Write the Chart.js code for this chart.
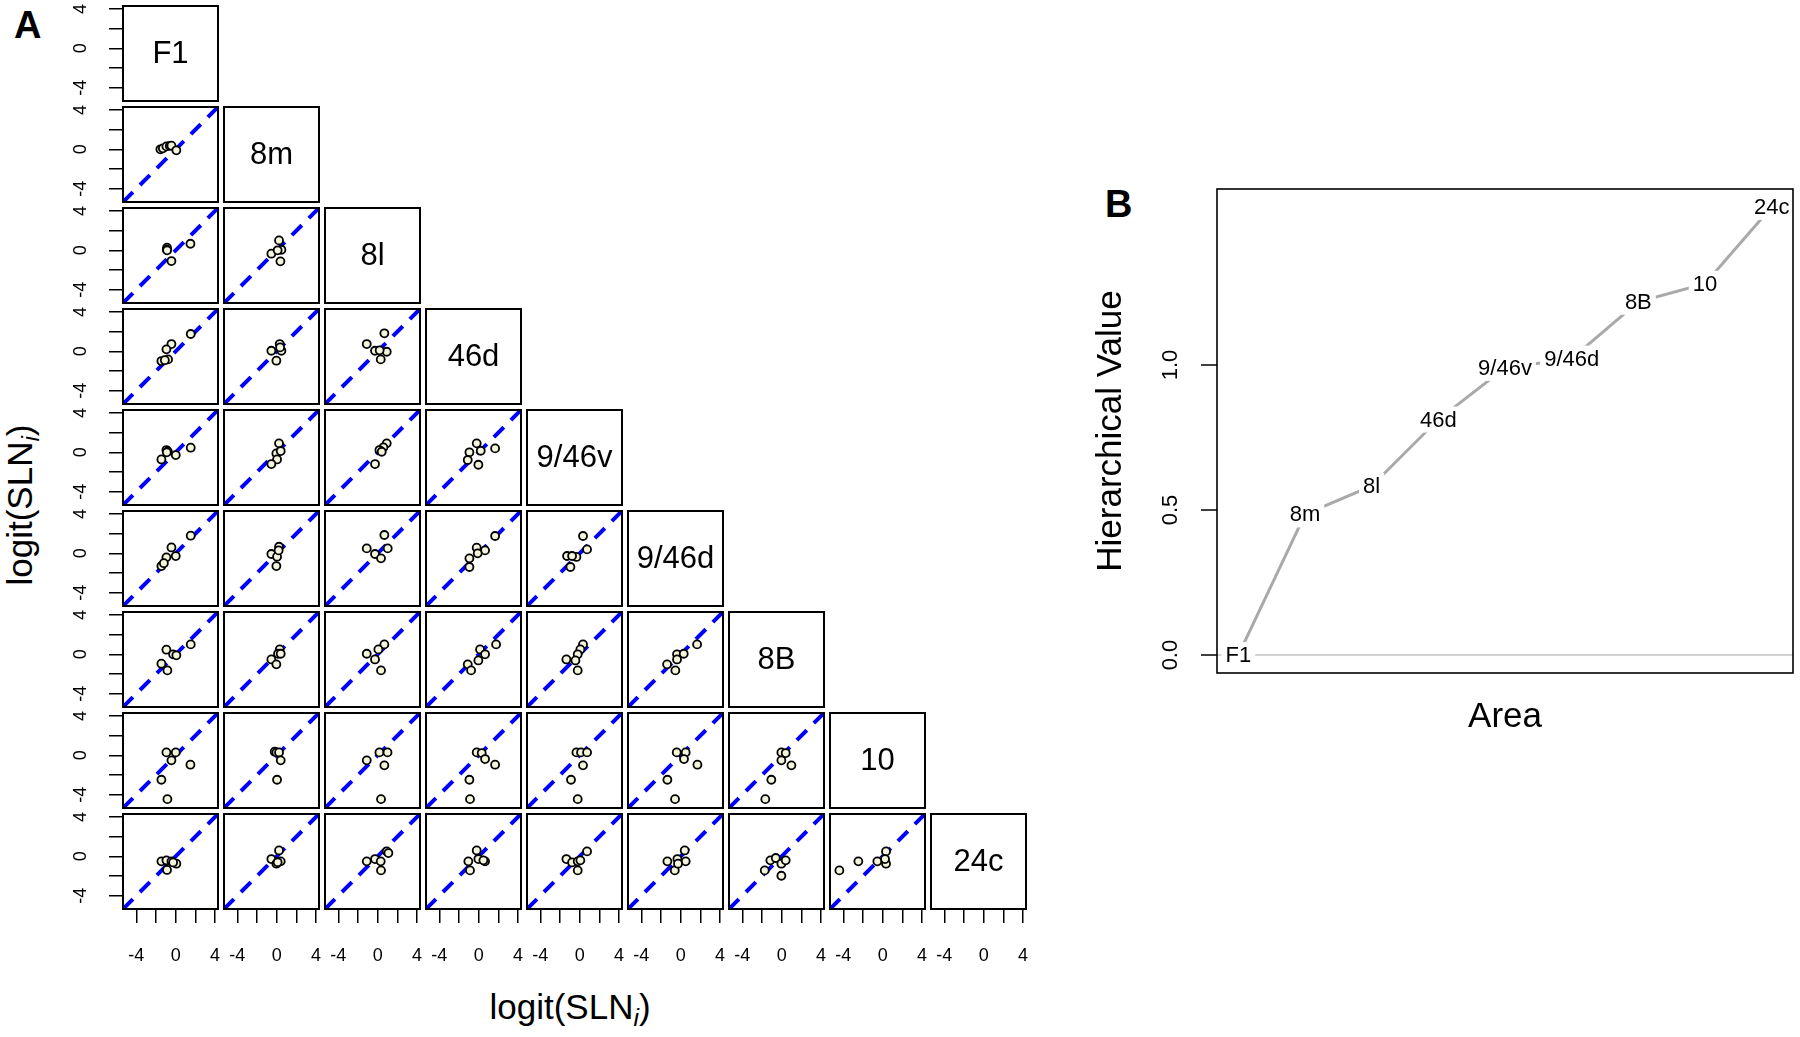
<!DOCTYPE html>
<html>
<head>
<meta charset="utf-8">
<script src="https://cdn.jsdelivr.net/npm/chart.js@4.4.0/dist/chart.umd.min.js"></script>
<style>
  body { margin: 0; background: #fff; }
  #stage { position: relative; width: 1800px; height: 1037px; overflow: hidden; font-family: "Liberation Sans", Arial, sans-serif; color: #000; }
  #stage canvas { position: absolute; }
  .txt { position: absolute; white-space: nowrap; line-height: 1; }
  .txt sub { font-size: 0.7em; vertical-align: -0.3em; font-style: italic; }
</style>
</head>
<body>
<div id="stage">
  <div class="txt" style="left:14px;top:6px;font-size:38px;font-weight:bold">A</div>
  <div class="txt" style="left:1105px;top:185px;font-size:38px;font-weight:bold">B</div>
  <div class="txt" style="left:570px;top:1010px;font-size:35px;transform:translate(-50%,-50%)">logit(SLN<sub>i</sub>)</div>
  <div class="txt" style="left:23px;top:505px;font-size:35px;transform:translate(-50%,-50%) rotate(-90deg)">logit(SLN<sub>i</sub>)</div>
</div>
<script>
// areas, in the order of the pairs panel and of panel B
const areas = ['F1', '8m', '8l', '46d', '9/46v', '9/46d', '8B', '10', '24c'];
const hierValues = [0, 0.485, 0.583, 0.812, 0.99, 1.022, 1.218, 1.28, 1.545];
const hierTicks = [0, 0.5, 1.0];

const axisTicks = [-4, -2, 0, 2, 4];
const axisLabels = [-4, 0, 4];

// pairs panel, one array per row area; each panel is [x = column area, y = row area]
const pts8m = [
  [[-1.55, 0.0], [-1.3, 0.1], [-0.94, 0.3], [-0.6, 0.35], [-0.43, 0.37], [0.07, -0.1]]
];
const pts8l = [
  [[-0.88, 0.27], [-0.9, 0.1], [-0.87, 0.0], [-0.43, -1.09], [1.5, 0.67]],
  [[0.24, 1.01], [-0.54, -0.34], [0.48, 0.06], [0.38, -1.12], [0.1, 0.0]]
];
const pts46d = [
  [[-0.43, 0.74], [-0.94, 0.2], [1.53, 1.76], [-0.77, -0.82], [-1.45, -0.99], [-1.1, -0.9]],
  [[0.31, 0.74], [-0.54, 0.06], [0.48, 0.06], [-0.03, -0.95], [0.35, 0.4]],
  [[-1.11, 0.74], [-0.27, 0.06], [0.68, 1.83], [0.92, -0.04], [0.31, -0.82], [0.2, 0.1]]
];
const pts946v = [
  [[-0.94, 0.23], [-0.8, 0.1], [-1.45, -0.72], [0.01, -0.28], [1.53, 0.47], [-0.9, 0.0]],
  [[0.24, 0.91], [-0.03, -0.11], [0.41, 0.13], [0.04, -0.72], [-0.54, -1.19]],
  [[0.92, 0.91], [0.58, 0.5], [0.18, 0.23], [0.41, 0.06], [-0.27, -1.19]],
  [[-0.2, 0.91], [-0.94, 0.0], [0.21, 0.16], [-1.11, -0.78], [-0.03, -1.26], [1.67, 0.4]]
];
const pts946d = [
  [[1.53, 1.79], [-0.43, 0.6], [-0.94, -0.41], [0.01, -0.28], [-1.45, -1.29], [-1.2, -1.0]],
  [[0.24, 0.67], [-0.54, -0.07], [0.04, -0.34], [-0.03, -1.29], [0.2, 0.3]],
  [[0.68, 1.86], [-1.11, 0.5], [-0.27, -0.07], [1.02, 0.5], [0.34, -0.51]],
  [[1.67, 1.76], [-0.2, 0.57], [0.65, 0.3], [-0.1, 0.0], [-0.94, -0.51], [-0.94, -1.39]],
  [[0.34, 1.76], [0.75, 0.4], [-1.28, -0.27], [-0.33, -0.37], [-0.94, -1.39], [-0.77, -0.27]]
];
const pts8B = [
  [[1.53, 1.01], [-0.94, 0.47], [-0.26, 0.0], [0.07, -0.1], [-1.45, -0.95], [-0.84, -1.63]],
  [[0.31, 0.5], [0.14, 0.06], [-0.54, -0.52], [-0.03, -1.02], [0.41, 0.06]],
  [[0.68, 1.01], [0.07, 0.5], [-1.11, 0.06], [-0.27, -0.52], [0.34, -1.63]],
  [[1.77, 1.01], [0.14, 0.5], [0.65, 0.0], [-0.03, -0.62], [-1.11, -1.02], [-0.77, -1.63]],
  [[0.34, 1.01], [0.07, 0.5], [-0.2, 0.0], [-1.35, -0.52], [-0.43, -0.62], [-0.2, -1.63]],
  [[1.67, 1.01], [-0.37, 0.0], [0.31, 0.06], [-1.38, -1.02], [-0.37, -0.52], [-0.54, -1.63]]
];
const pts10 = [
  [[-0.94, 0.3], [0.01, 0.3], [-0.43, -0.51], [1.5, -0.95], [-1.45, -2.48], [-0.84, -4.45]],
  [[-0.2, 0.37], [-0.03, 0.3], [0.24, 0.3], [0.41, -0.51], [0.04, -2.48]],
  [[-1.11, -0.51], [0.18, 0.3], [1.0, 0.3], [0.68, -1.02], [0.34, -4.45]],
  [[-0.2, 0.3], [0.31, 0.23], [0.65, -0.38], [1.67, -0.95], [-0.94, -2.48], [-0.88, -4.45]],
  [[-0.33, 0.3], [0.14, 0.3], [0.75, 0.3], [0.34, -1.02], [-0.88, -2.48], [-0.2, -4.45]],
  [[-0.4, 0.3], [0.51, 0.3], [0.34, -0.38], [1.7, -0.95], [-1.35, -2.48], [-0.57, -4.45]],
  [[-0.03, 0.3], [0.41, 0.23], [-0.03, -0.51], [0.99, -1.02], [-1.05, -2.48], [-1.66, -4.45]]
];
const pts24c = [
  [[-1.45, -0.51], [-0.94, -0.41], [-0.43, -0.51], [0.07, -0.75], [-0.88, -1.38], [-0.26, -0.62]],
  [[0.24, 0.6], [-0.54, -0.28], [-0.03, -0.75], [0.41, -0.51], [0.1, -0.6]],
  [[-1.11, -0.51], [-0.27, -0.28], [0.31, -0.51], [0.92, 0.5], [0.34, -1.43], [1.09, 0.33]],
  [[-0.2, 0.6], [-1.05, -0.51], [-0.03, -0.28], [0.65, -0.51], [-0.88, -1.43], [0.48, -0.41]],
  [[0.75, 0.5], [-1.35, -0.28], [-0.77, -0.62], [-0.2, -0.51], [0.07, -0.41], [-0.2, -1.43]],
  [[0.41, 0.6], [-1.35, -0.51], [-0.33, -0.28], [0.51, -0.51], [-0.6, -1.43], [-0.27, -0.75]],
  [[-1.72, -1.43], [-1.15, -0.41], [-0.6, -0.17], [-0.03, -0.75], [0.41, -0.41], [-0.03, -1.97]],
  [[-4.4, -1.43], [-2.47, -0.51], [-0.54, -0.51], [0.34, 0.5], [0.34, -0.75], [0.24, -0.28]]
];
const pairRows = [[], pts8m, pts8l, pts46d, pts946v, pts946d, pts8B, pts10, pts24c];

const FONT = '"Liberation Sans", Arial, sans-serif';
Chart.defaults.font.family = FONT;
Chart.defaults.color = '#000';

// shared axis range of every pairs panel (same on x and y, so y = x runs corner to corner)
const AX_MIN = -5.35, AX_MAX = 4.3;

// layout of the pairs grid
const X0 = 123, Y0 = 6, BOX = 95, PITCH = 101, PAD = 2, YAX = 60, XAX = 64;

// box round the plot area
const frame = {
  id: 'frame',
  afterDraw(chart, args, opts) {
    const { ctx, chartArea: a } = chart;
    ctx.save();
    ctx.strokeStyle = '#000';
    ctx.lineWidth = opts.width || 2;
    ctx.strokeRect(a.left, a.top, a.right - a.left, a.bottom - a.top);
    ctx.restore();
  }
};

// area name in the diagonal panels
const diagLabel = {
  id: 'diagLabel',
  afterDraw(chart, args, opts) {
    if (!opts.text) return;
    const { ctx, chartArea: a } = chart;
    ctx.save();
    ctx.font = '31px ' + FONT;
    ctx.fillStyle = '#000';
    ctx.textAlign = 'center';
    ctx.textBaseline = 'middle';
    ctx.fillText(opts.text, (a.left + a.right) / 2, (a.top + a.bottom) / 2 + 1);
    ctx.restore();
  }
};

function noPad(s) {
  s.paddingTop = 0; s.paddingBottom = 0; s.paddingLeft = 0; s.paddingRight = 0;
}

function pairScale(show, horizontal) {
  return {
    type: 'linear',
    min: AX_MIN,
    max: AX_MAX,
    display: show,
    position: horizontal ? 'bottom' : 'left',
    afterBuildTicks: s => { s.ticks = axisTicks.map(v => ({ value: v })); },
    afterFit: s => {
      if (!show) return;
      if (horizontal) s.height = XAX; else s.width = YAX;
      noPad(s);
    },
    grid: { drawOnChartArea: false, drawTicks: true, tickLength: 14, color: '#000', lineWidth: 1.5 },
    border: { display: false },
    ticks: {
      autoSkip: false,
      minRotation: horizontal ? 0 : 90,
      maxRotation: horizontal ? 0 : 90,
      crossAlign: horizontal ? 'near' : 'center',
      padding: horizontal ? 22 : 20,
      color: '#000',
      font: { size: 18 },
      callback: v => axisLabels.includes(v) ? String(v) : ''
    }
  };
}

const stage = document.getElementById('stage');

for (let r = 0; r < areas.length; r++) {
  for (let c = 0; c <= r; c++) {
    const diag = r === c;
    const leftAxis = c === 0;
    const bottomAxis = r === areas.length - 1;
    const cv = document.createElement('canvas');
    cv.width = (leftAxis ? YAX : PAD) + BOX + PAD;
    cv.height = PAD + BOX + (bottomAxis ? XAX : PAD);
    cv.style.left = (X0 + c * PITCH - (leftAxis ? YAX : PAD)) + 'px';
    cv.style.top = (Y0 + r * PITCH - PAD) + 'px';
    stage.appendChild(cv);

    const datasets = [];
    if (!diag) {
      datasets.push({
        data: pairRows[r][c].map(p => ({ x: p[0], y: p[1] })),
        pointRadius: 4,
        pointBackgroundColor: '#f5f5dc',
        pointBorderColor: '#000',
        pointBorderWidth: 1.8,
        showLine: false
      });
      // identity line y = x
      datasets.push({
        data: [{ x: AX_MIN, y: AX_MIN }, { x: AX_MAX, y: AX_MAX }],
        showLine: true,
        borderColor: '#0000ff',
        borderWidth: 4,
        borderDash: [14, 10],
        pointRadius: 0
      });
    }

    new Chart(cv, {
      type: 'scatter',
      data: { datasets },
      options: {
        responsive: false,
        animation: false,
        devicePixelRatio: 1,
        layout: {
          autoPadding: false,
          padding: { left: leftAxis ? 0 : PAD, right: PAD, top: PAD, bottom: bottomAxis ? 0 : PAD }
        },
        plugins: {
          legend: { display: false },
          tooltip: { enabled: false },
          frame: { width: 2 },
          diagLabel: { text: diag ? areas[r] : '' }
        },
        scales: {
          x: pairScale(bottomAxis, true),
          y: pairScale(leftAxis, false)
        }
      },
      plugins: [frame, diagLabel]
    });
  }
}

// panel B: hierarchical value by area
const hMin = Math.min(...hierValues), hMax = Math.max(...hierValues);
const hExt = (hMax - hMin) * 0.04;
const nExt = (areas.length - 1) * 0.04;

// area names written on the line, with a gap cut out of it
const pointLabels = {
  id: 'pointLabels',
  afterDatasetsDraw(chart) {
    const { ctx } = chart;
    const meta = chart.getDatasetMeta(0);
    ctx.save();
    ctx.font = '22px ' + FONT;
    ctx.textAlign = 'center';
    ctx.textBaseline = 'middle';
    meta.data.forEach((pt, i) => {
      const w = ctx.measureText(areas[i]).width;
      ctx.fillStyle = '#fff';
      ctx.fillRect(pt.x - w / 2 - 4, pt.y - 13, w + 8, 26);
      ctx.fillStyle = '#000';
      ctx.fillText(areas[i], pt.x, pt.y + 1);
    });
    ctx.restore();
  }
};

const cvB = document.createElement('canvas');
cvB.width = 720;
cvB.height = 600;
cvB.style.left = '1080px';
cvB.style.top = '180px';
stage.appendChild(cvB);

new Chart(cvB, {
  type: 'line',
  data: {
    datasets: [{
      data: hierValues.map((v, i) => ({ x: i + 1, y: v })),
      borderColor: '#a9a9a9',
      borderWidth: 3,
      pointRadius: 0,
      tension: 0
    }]
  },
  options: {
    responsive: false,
    animation: false,
    devicePixelRatio: 1,
    layout: { autoPadding: false, padding: { left: 0, top: 9, right: 7, bottom: 0 } },
    plugins: {
      legend: { display: false },
      tooltip: { enabled: false },
      frame: { width: 1.6 }
    },
    scales: {
      x: {
        type: 'linear',
        min: 1 - nExt,
        max: areas.length + nExt,
        afterFit: s => { s.height = 107; noPad(s); },
        grid: { display: false },
        border: { display: false },
        ticks: { display: false },
        title: { display: true, text: 'Area', color: '#000', font: { size: 35 }, padding: { top: 0, bottom: 42 } }
      },
      y: {
        type: 'linear',
        min: hMin - hExt,
        max: hMax + hExt,
        afterBuildTicks: s => { s.ticks = hierTicks.map(v => ({ value: v })); },
        afterFit: s => { s.width = 137; noPad(s); },
        grid: {
          drawOnChartArea: true,
          color: ctx => (ctx.tick && ctx.tick.value === 0) ? '#d3d3d3' : 'rgba(0,0,0,0)',
          lineWidth: 2,
          tickColor: '#000',
          tickWidth: 1.5,
          tickLength: 16
        },
        border: { display: false },
        ticks: {
          autoSkip: false,
          minRotation: 90,
          maxRotation: 90,
          crossAlign: 'center',
          padding: 14.5,
          color: '#000',
          font: { size: 22 },
          callback: v => v.toFixed(1)
        },
        title: { display: true, text: 'Hierarchical Value', color: '#000', font: { size: 35 }, padding: { top: 10, bottom: 0 } }
      }
    }
  },
  plugins: [frame, pointLabels]
});
</script>
</body>
</html>
